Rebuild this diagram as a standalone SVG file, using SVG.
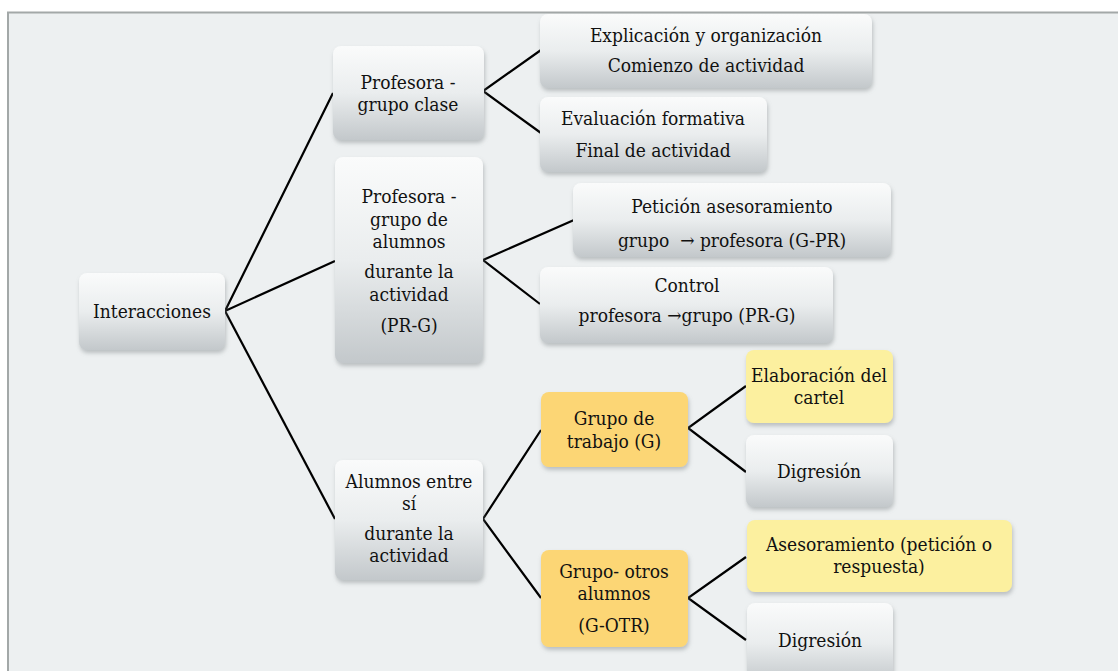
<svg xmlns="http://www.w3.org/2000/svg" width="1118" height="671" viewBox="0 0 1118 671">
  <defs>
    <linearGradient id="gray" x1="0" y1="0" x2="0" y2="1">
      <stop offset="0" stop-color="#fafbfb"/>
      <stop offset="0.5" stop-color="#eaedee"/>
      <stop offset="1" stop-color="#c3c8cb"/>
    </linearGradient>
    <filter id="shadow" x="-10%" y="-10%" width="120%" height="130%">
      <feDropShadow dx="1" dy="3" stdDeviation="2" flood-color="#7d8285" flood-opacity="0.45"/>
    </filter>
    <style>
      .box { fill: url(#gray); filter: url(#shadow); }
      .orange { fill: #fcd675; filter: url(#shadow); }
      .yellow { fill: #fcf09f; filter: url(#shadow); }
      text { font-family: "DejaVu Serif Condensed", "DejaVu Serif", "Liberation Serif", serif; font-stretch: condensed; font-size: 19px; fill: #111; text-anchor: middle; }
      .links path { fill: none; stroke: #000; stroke-width: 2.2; stroke-linejoin: miter; }
    </style>
  </defs>

  <!-- page background and frame -->
  <rect x="0" y="0" width="1118" height="671" fill="#ffffff"/>
  <rect x="8" y="12.5" width="1120" height="670" fill="#edf0f1" stroke="#a3a8a8" stroke-width="2"/>

  <!-- connectors -->
  <g class="links" id="connectors">
    <path d="M333,93 L225,311 L335,261"/>
    <path d="M225,311 L335,519"/>
    <path d="M541,50 L483,91 L541,133"/>
    <path d="M574,220 L483,260 L540,304"/>
    <path d="M541,430 L483,519 L541,598"/>
    <path d="M746,386 L688,428 L746,472"/>
    <path d="M746,557 L688,598 L746,640"/>
  </g>

  <g id="n-interacciones">
    <rect class="box" x="79" y="273" width="146" height="77" rx="8"/>
    <text x="152" y="318">Interacciones</text>
  </g>

  <g id="n-profesora-grupo-clase">
    <rect class="box" x="333" y="46" width="151" height="94" rx="8"/>
    <text x="408" y="89">Profesora -</text>
    <text x="408" y="111">grupo clase</text>
  </g>

  <g id="n-profesora-grupo-alumnos">
    <rect class="box" x="335" y="157" width="148" height="206" rx="8"/>
    <text x="409" y="203">Profesora -</text>
    <text x="409" y="226">grupo de</text>
    <text x="409" y="248">alumnos</text>
    <text x="409" y="278">durante la</text>
    <text x="409" y="301">actividad</text>
    <text x="409" y="332">(PR-G)</text>
  </g>

  <g id="n-alumnos-entre-si">
    <rect class="box" x="335" y="460" width="148" height="120" rx="8"/>
    <text x="409" y="488">Alumnos entre</text>
    <text x="409" y="510">sí</text>
    <text x="409" y="540">durante la</text>
    <text x="409" y="562">actividad</text>
  </g>

  <g id="n-explicacion">
    <rect class="box" x="540" y="14" width="332" height="74" rx="8"/>
    <text x="706" y="42">Explicación y organización</text>
    <text x="706" y="72">Comienzo de actividad</text>
  </g>

  <g id="n-evaluacion">
    <rect class="box" x="540" y="97" width="227" height="75" rx="8"/>
    <text x="653" y="125">Evaluación formativa</text>
    <text x="653" y="157">Final de actividad</text>
  </g>

  <g id="n-peticion">
    <rect class="box" x="573" y="183" width="318" height="74" rx="8"/>
    <text x="732" y="213">Petición asesoramiento</text>
    <text x="732" y="247">grupo&#160; → profesora (G-PR)</text>
  </g>

  <g id="n-control">
    <rect class="box" x="540" y="267" width="293" height="76" rx="8"/>
    <text x="687" y="292">Control</text>
    <text x="687" y="322">profesora →grupo (PR-G)</text>
  </g>

  <g id="n-grupo-trabajo">
    <rect class="orange" x="541" y="392" width="147" height="75" rx="8"/>
    <text x="614" y="425">Grupo de</text>
    <text x="614" y="448">trabajo (G)</text>
  </g>

  <g id="n-elaboracion">
    <rect class="yellow" x="746" y="350" width="147" height="73" rx="8"/>
    <text x="819" y="382">Elaboración del</text>
    <text x="819" y="404">cartel</text>
  </g>

  <g id="n-digresion-1">
    <rect class="box" x="746" y="435" width="147" height="72" rx="8"/>
    <text x="819" y="478">Digresión</text>
  </g>

  <g id="n-grupo-otros">
    <rect class="orange" x="541" y="550" width="147" height="97" rx="8"/>
    <text x="614" y="578">Grupo- otros</text>
    <text x="614" y="600">alumnos</text>
    <text x="614" y="632">(G-OTR)</text>
  </g>

  <g id="n-asesoramiento">
    <rect class="yellow" x="747" y="520" width="265" height="72" rx="8"/>
    <text x="879" y="551">Asesoramiento (petición o</text>
    <text x="879" y="573">respuesta)</text>
  </g>

  <g id="n-digresion-2">
    <rect class="box" x="747" y="603" width="146" height="80" rx="8"/>
    <text x="820" y="647">Digresión</text>
  </g>
</svg>
